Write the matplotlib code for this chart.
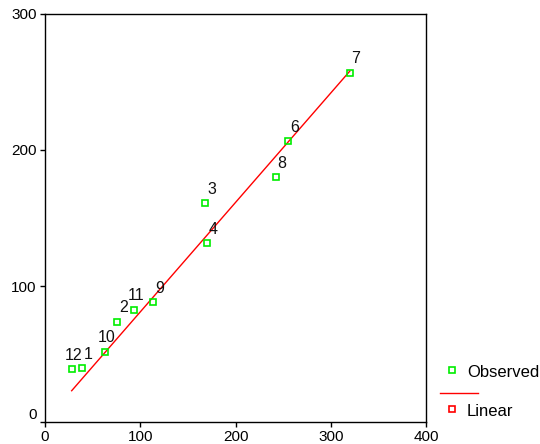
import matplotlib
matplotlib.use("Agg")
import matplotlib.pyplot as plt
from matplotlib.lines import Line2D

plt.rcParams["font.family"] = ["Liberation Sans", "DejaVu Sans"]

# observed cases (label, x, y)
case_labels = ["12", "1", "10", "2", "11", "9", "3", "4", "8", "6", "7"]
observed_x = [28.4, 39.2, 63.3, 75.6, 93.1, 113.8, 168.4, 170.5, 242.6, 255.3, 319.7]
observed_y = [38.7, 39.5, 51.7, 73.7, 82.6, 88.0, 160.8, 131.4, 179.9, 206.4, 256.8]

# linear fit line
fit_x = [28.0, 320.0]
fit_y = [23.0, 258.0]

x_ticks = [0, 100, 200, 300, 400]
y_ticks = [0, 100, 200, 300]

green = "#00ee00"
red = "#ff0000"

fig = plt.figure(figsize=(5.4, 4.44), dpi=100)
ax = fig.add_axes([45 / 540, 22 / 444, 381 / 540, 408 / 444])

ax.plot(fit_x, fit_y, color=red, linewidth=1.0)
ax.plot(observed_x, observed_y, linestyle="none", marker="s", markersize=4.4,
        markerfacecolor="none", markeredgecolor=green, markeredgewidth=1.2)

for label, x, y in zip(case_labels, observed_x, observed_y):
    ax.annotate(label, (x, y), xytext=(10.5, 9.5), textcoords="offset pixels",
                ha="right", va="baseline", fontsize=11.5, color="#111111")

ax.set_xlim(0, 400)
ax.set_ylim(0, 300)
ax.set_xticks(x_ticks)
ax.set_yticks(y_ticks)
ax.tick_params(direction="out", length=3.6, width=1.0, pad=2.5, labelsize=11)
for spine in ax.spines.values():
    spine.set_linewidth(1.0)
ax.get_yticklabels()[0].set_verticalalignment("bottom")

# legend, drawn in figure coordinates like the original
def fx(px):
    return px / 540

def fy(py):
    return 1 - py / 444

fig.add_artist(Line2D([fx(452)], [fy(370)], marker="s", markersize=4.4,
                      markerfacecolor="none", markeredgecolor=green,
                      markeredgewidth=1.2, linestyle="none"))
fig.text(fx(467), fy(372), "Observed", fontsize=12, va="center", ha="left")
fig.add_artist(Line2D([fx(440), fx(478)], [fy(393), fy(393)], color=red, linewidth=1.0))
fig.add_artist(Line2D([fx(452)], [fy(409)], marker="s", markersize=4.4,
                      markerfacecolor="none", markeredgecolor=red,
                      markeredgewidth=1.2, linestyle="none"))
fig.text(fx(467), fy(411), "Linear", fontsize=12, va="center", ha="left")

fig.savefig("out.png", dpi=100)
